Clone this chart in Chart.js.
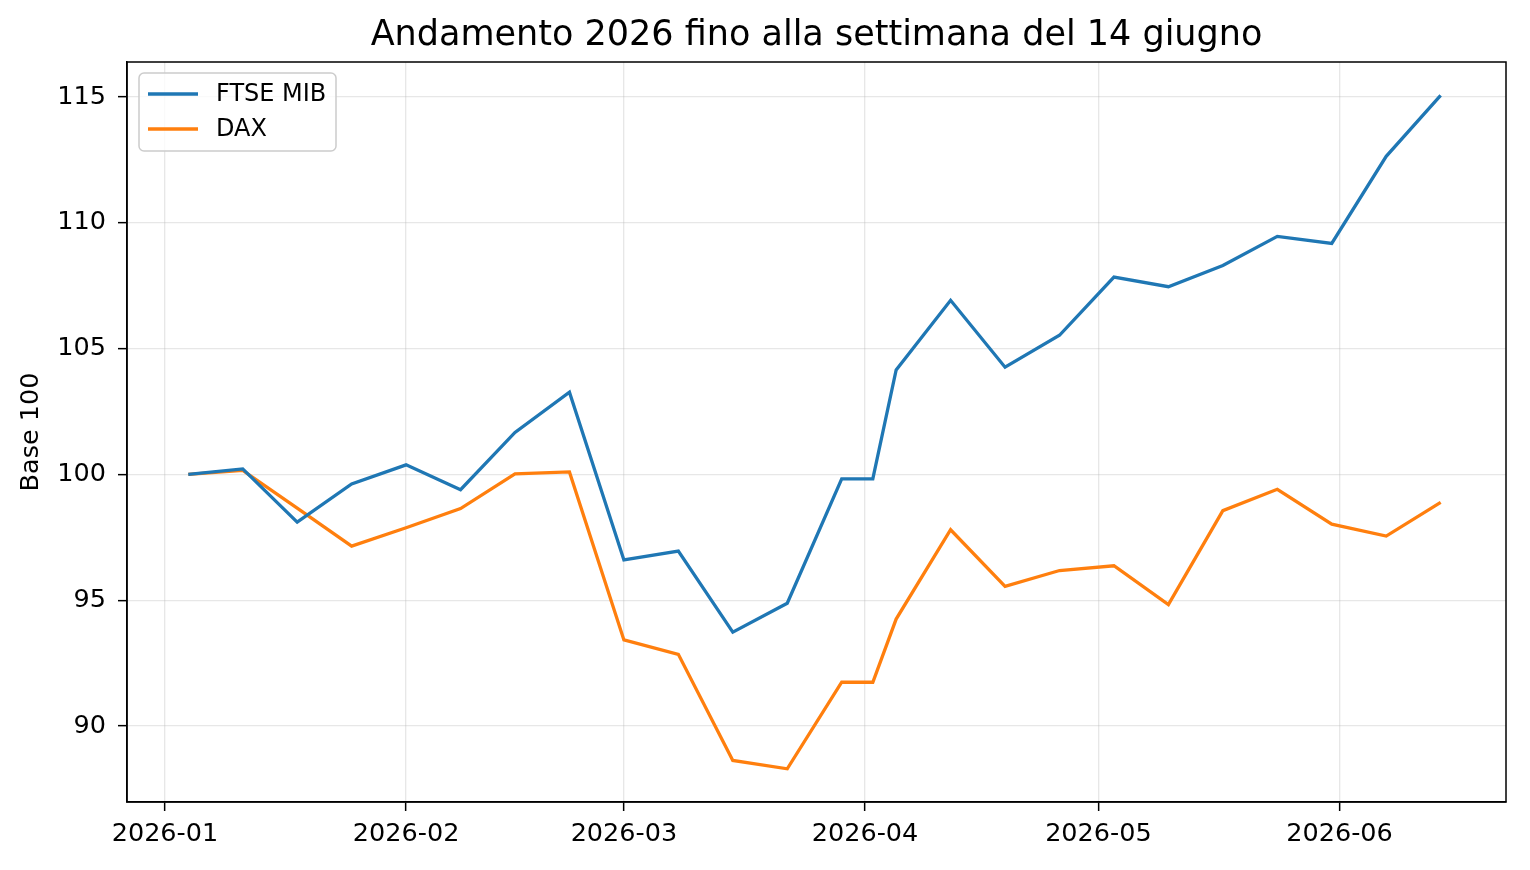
<!DOCTYPE html>
<html>
<head>
<meta charset="utf-8">
<script src="https://cdn.jsdelivr.net/npm/chart.js@4.4.1/dist/chart.umd.min.js"></script>
<style>
  html, body { margin: 0; padding: 0; background: #fff; }
</style>
</head>
<body>
<canvas id="myChart" width="1530" height="870"></canvas>
<script>
// weekly closes, base 100
const weeks = [
  "2026-01-04", "2026-01-11", "2026-01-18", "2026-01-25", "2026-02-01",
  "2026-02-08", "2026-02-15", "2026-02-22", "2026-03-01", "2026-03-08",
  "2026-03-15", "2026-03-22", "2026-03-29", "2026-04-02", "2026-04-05",
  "2026-04-12", "2026-04-19", "2026-04-26", "2026-05-03", "2026-05-10",
  "2026-05-17", "2026-05-24", "2026-05-31", "2026-06-07", "2026-06-14",
];
const ftseMib = [
  100.0, 100.22, 98.1, 99.62, 100.38,
  99.39, 101.67, 103.27, 96.6, 96.95,
  93.73, 94.88, 99.82, 99.82, 104.15,
  106.92, 104.26, 105.53, 107.84, 107.46,
  108.3, 109.46, 109.18, 112.64, 115.06,
];
const dax = [
  100.0, 100.16, 98.66, 97.15, 97.88,
  98.64, 100.02, 100.1, 93.42, 92.85,
  88.63, 88.3, 91.74, 91.74, 94.25,
  97.8, 95.55, 96.18, 96.37, 94.83,
  98.56, 99.41, 98.02, 97.55, 98.89,
];
const monthStarts = ["2026-01-01", "2026-02-01", "2026-03-01", "2026-04-01", "2026-05-01", "2026-06-01"];
const monthLabels = ["2026-01", "2026-02", "2026-03", "2026-04", "2026-05", "2026-06"];
const yTicks = [90, 95, 100, 105, 110, 115];

const day0 = Date.parse("2026-01-01T00:00:00Z");
const dayNum = (s) => (Date.parse(s + "T00:00:00Z") - day0) / 86400000;
const monthDays = monthStarts.map(dayNum);

Chart.defaults.font.family = "'DejaVu Sans', sans-serif";
Chart.defaults.color = "#000";

const frame = {
  id: "frame",
  afterDraw: (chart) => {
    const { ctx, chartArea: { top, bottom, left, right } } = chart;
    ctx.save();
    ctx.strokeStyle = "#000";
    ctx.lineWidth = 1.5;
    ctx.strokeRect(left, top, right - left, bottom - top);
    ctx.restore();
  },
};

const insideLegend = {
  id: "insideLegend",
  afterDraw: (chart) => {
    const { ctx, chartArea } = chart;
    const x = chartArea.left + 12;
    const y = chartArea.top + 11;
    ctx.save();
    ctx.beginPath();
    ctx.roundRect(x, y, 197, 78, 5);
    ctx.fillStyle = "rgba(255, 255, 255, 0.8)";
    ctx.fill();
    ctx.strokeStyle = "#cccccc";
    ctx.lineWidth = 1.5;
    ctx.stroke();
    ctx.font = "24px 'DejaVu Sans'";
    ctx.textBaseline = "middle";
    ctx.fillStyle = "#000";
    chart.data.datasets.forEach((ds, i) => {
      const ly = y + 21 + i * 35;
      ctx.beginPath();
      ctx.moveTo(x + 9, ly);
      ctx.lineTo(x + 59, ly);
      ctx.strokeStyle = ds.borderColor;
      ctx.lineWidth = 3.3;
      ctx.stroke();
      ctx.fillText(ds.label, x + 77, ly + 1);
    });
    ctx.restore();
  },
};

const gridStyle = {
  color: "rgba(176, 176, 176, 0.3)",
  lineWidth: 1.3,
  tickColor: "#000",
  tickLength: 9,
  tickWidth: 1.5,
};

const config = {
  type: "line",
  data: {
    datasets: [
      {
        label: "FTSE MIB",
        data: weeks.map((d, i) => ({ x: dayNum(d), y: ftseMib[i] })),
        borderColor: "#1f77b4",
        borderWidth: 3.3,
        pointRadius: 0,
        tension: 0,
      },
      {
        label: "DAX",
        data: weeks.map((d, i) => ({ x: dayNum(d), y: dax[i] })),
        borderColor: "#ff7f0e",
        borderWidth: 3.3,
        pointRadius: 0,
        tension: 0,
      },
    ],
  },
  options: {
    responsive: false,
    animation: false,
    devicePixelRatio: 1,
    layout: { padding: { left: 0, right: 24, top: 0, bottom: 0 } },
    plugins: {
      legend: { display: false },
      tooltip: { enabled: false },
      title: {
        display: true,
        text: "Andamento 2026 fino alla settimana del 14 giugno",
        fullSize: false,
        color: "#000",
        font: { size: 35, weight: "normal" },
        padding: { top: 15, bottom: 5 },
      },
    },
    scales: {
      x: {
        type: "linear",
        min: -4.88,
        max: 172.4,
        afterFit: (scale) => { scale.height = 68; },
        afterBuildTicks: (scale) => {
          scale.ticks = monthDays.map((v) => ({ value: v }));
        },
        ticks: {
          font: { size: 25.5 },
          color: "#000",
          padding: 8,
          maxRotation: 0,
          autoSkip: false,
          callback: (value) => monthLabels[monthDays.indexOf(value)],
        },
        grid: gridStyle,
        border: { display: true, color: "#000", width: 1.5 },
      },
      y: {
        min: 86.98,
        max: 116.39,
        afterFit: (scale) => { scale.width = 127; },
        afterBuildTicks: (scale) => {
          scale.ticks = yTicks.map((v) => ({ value: v }));
        },
        ticks: {
          font: { size: 25.5 },
          color: "#000",
          padding: 12,
        },
        grid: gridStyle,
        border: { display: true, color: "#000", width: 1.5 },
        title: {
          display: true,
          text: "Base 100",
          color: "#000",
          font: { size: 25.5 },
          padding: { top: 15.7, bottom: 0 },
        },
      },
    },
  },
  plugins: [frame, insideLegend],
};

const myChart = new Chart(document.getElementById("myChart"), config);
</script>
</body>
</html>
